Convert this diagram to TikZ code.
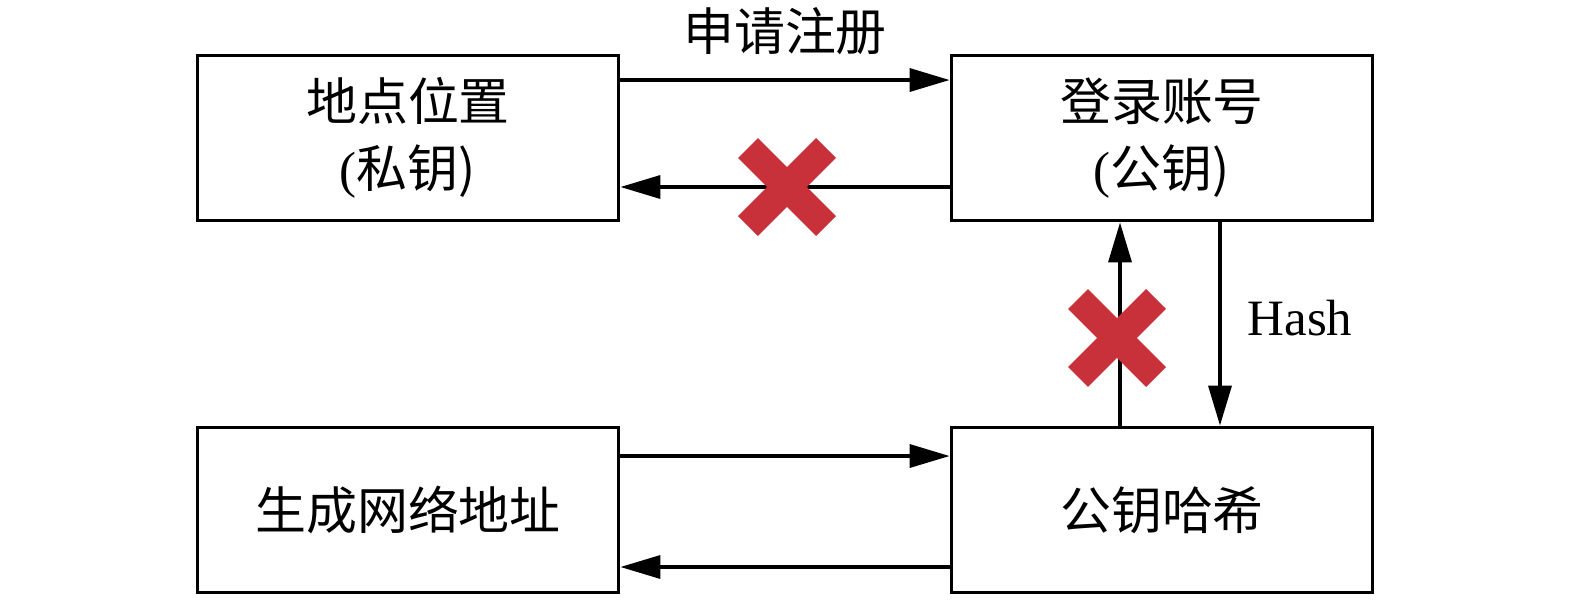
\documentclass[tikz,border=0pt]{standalone}
\usepackage{fontspec}
\setmainfont{Liberation Serif}
\newfontfamily\cjk{Noto Sans CJK SC}
\usetikzlibrary{arrows.meta}
\definecolor{crossred}{RGB}{200,48,58}
\tikzset{
  blk/.style={draw, line width=2.2pt, minimum width=8.42cm, minimum height=3.3cm,
    align=center, font=\fontsize{29pt}{38pt}\selectfont},
  arr/.style={line width=2pt, -{Triangle[length=0.8cm,width=0.46cm]}},
  nogo/.style={line width=0.56cm, color=crossred},
  lbl/.style={font=\fontsize{29pt}{38pt}\selectfont}
}
\begin{document}
\begin{tikzpicture}[x=0.02cm, y=-0.02cm]
    \useasboundingbox (0,0) rectangle (1575,600);
    \node[blk] (loc) at (408,138) {\cjk 地点位置\\(\cjk 私钥)};
    \node[blk] (acct) at (1162,138) {\cjk 登录账号\\(\cjk 公钥)};
    \node[blk] (addr) at (408,510) {\cjk 生成网络地址};
    \node[blk] (phash) at (1162,510) {\cjk 公钥哈希};
    \draw[arr] ([yshift=1.16cm]loc.east) -- ([yshift=1.16cm]acct.west)
        node[lbl, midway, above=0.35cm] (reg) {\cjk 申请注册};
    \draw[arr] ([yshift=-0.98cm]acct.west) -- ([yshift=-0.98cm]loc.west -| loc.east);
    \draw[arr] ([xshift=-0.84cm]phash.north) -- ([xshift=-0.84cm]acct.south);
    \draw[arr] ([xshift=1.16cm]acct.south) -- ([xshift=1.16cm]phash.north)
        node[lbl, pos=0.47, right=0.4cm] (hashlbl) {Hash};
    \draw[arr] ([yshift=1.08cm]addr.east) -- ([yshift=1.08cm]phash.west);
    \draw[arr] ([yshift=-1.14cm]phash.west) -- ([yshift=-1.14cm]addr.east);
    \draw[nogo] (748,148) -- (826,226);
    \draw[nogo] (748,226) -- (826,148);
    \draw[nogo] (1078,299) -- (1156,377);
    \draw[nogo] (1078,377) -- (1156,299);
\end{tikzpicture}
\end{document}
